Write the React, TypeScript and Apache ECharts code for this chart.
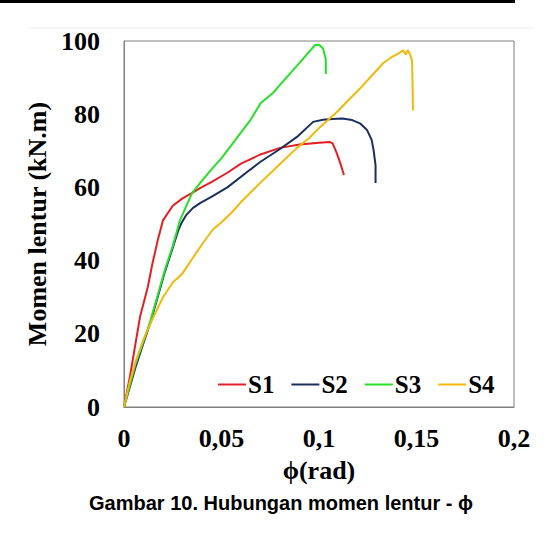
import React, { useEffect, useRef } from "react";
import * as echarts from "echarts";

const seriesNames = ["S1", "S2", "S3", "S4"];
const colors = ["#e41f26", "#1b2f5e", "#27e027", "#f2b90c"];

const s1Phi = [0, 0.003, 0.0082, 0.0123, 0.0145, 0.0175, 0.02, 0.025, 0.03, 0.035, 0.039, 0.045, 0.053, 0.06, 0.07, 0.08, 0.09, 0.1, 0.1056, 0.107, 0.109, 0.111, 0.1128];
const s1M = [0, 8.2, 24.6, 33, 39, 46, 51, 55, 57, 58.5, 59.8, 61.5, 64, 66.5, 69, 70.8, 71.7, 72.2, 72.4, 72, 69.5, 66.5, 63.4];

const s2Phi = [0, 0.003, 0.006, 0.01, 0.0135, 0.017, 0.021, 0.025, 0.028, 0.0297, 0.032, 0.0354, 0.039, 0.045, 0.053, 0.0646, 0.07, 0.08, 0.0887, 0.097, 0.102, 0.107, 0.112, 0.117, 0.121, 0.1246, 0.127, 0.128, 0.129, 0.129];
const s2M = [0, 5.5, 11, 17.5, 23, 29.5, 37, 43.5, 48.5, 50.5, 52.5, 54.4, 55.7, 57.5, 60, 64.8, 67, 70.5, 73.8, 77.9, 78.5, 78.7, 78.8, 78.4, 77.5, 75.7, 73, 70.2, 66, 61.2];

const s3Phi = [0, 0.003, 0.006, 0.01, 0.0135, 0.017, 0.021, 0.025, 0.0287, 0.032, 0.035, 0.039, 0.045, 0.05, 0.055, 0.061, 0.065, 0.07, 0.0764, 0.08, 0.085, 0.09, 0.094, 0.098, 0.1, 0.102, 0.1035, 0.1035];
const s3M = [0, 6, 12, 18, 23.5, 30, 37.5, 44, 51, 55, 58.5, 61.2, 65, 68, 71.5, 75.7, 78.5, 83, 85.8, 88, 91, 94, 96.5, 98.9, 99, 98, 95, 91];

const s4Phi = [0, 0.003, 0.006, 0.01, 0.015, 0.02, 0.025, 0.03, 0.035, 0.0405, 0.0456, 0.05, 0.055, 0.06, 0.07, 0.08, 0.0887, 0.095, 0.1, 0.1046, 0.11, 0.115, 0.121, 0.127, 0.133, 0.137, 0.1415, 0.143, 0.1445, 0.1455, 0.1465, 0.1477, 0.148, 0.1482];
const s4M = [0, 7, 12.5, 18.5, 24.5, 30, 34, 36.5, 40.5, 44.8, 48.5, 50.5, 53, 56, 61.3, 66.4, 70.8, 73.5, 76.2, 78.4, 81, 83.8, 87, 90.5, 94, 95.5, 96.8, 97.5, 96.3, 97.5, 96.5, 94.8, 88, 81];

const xTicks = ["0", "0,05", "0,1", "0,15", "0,2"];
const xTitle = "ϕ(rad)";
const yTitle = "Momen lentur (kN.m)";
const caption = "Gambar 10. Hubungan momen lentur - ϕ";

const serif = "'Liberation Serif', 'DejaVu Serif', serif";
const sans = "'Liberation Sans', Arial, sans-serif";

export default function App() {
  const ref = useRef<HTMLDivElement>(null);
  useEffect(() => {
    if (!ref.current) return;
    const chart = echarts.init(ref.current, null, { renderer: "svg" });
    const allPhi = [s1Phi, s2Phi, s3Phi, s4Phi];
    const allM = [s1M, s2M, s3M, s4M];
    chart.setOption({
      animation: false,
      backgroundColor: "#ffffff",
      grid: {
        left: 124,
        top: 41,
        right: 43,
        bottom: 126,
        show: true,
        borderColor: "#7f7f7f",
        borderWidth: 1,
      },
      xAxis: {
        type: "value",
        min: 0,
        max: 0.2,
        interval: 0.05,
        axisLine: { show: true, lineStyle: { color: "#7f7f7f", width: 1 } },
        axisTick: { show: false },
        splitLine: { show: false },
        axisLabel: {
          margin: 18,
          color: "#000",
          fontFamily: serif,
          fontWeight: "bold",
          fontSize: 26,
          formatter: (v: number) => xTicks[Math.round(v / 0.05)] ?? "",
        },
        name: xTitle,
        nameLocation: "middle",
        nameGap: 50,
        nameTextStyle: { color: "#000", fontFamily: serif, fontWeight: "bold", fontSize: 26 },
      },
      yAxis: {
        type: "value",
        min: 0,
        max: 100,
        interval: 20,
        axisLine: { show: true, lineStyle: { color: "#7f7f7f", width: 1 } },
        axisTick: { show: false },
        splitLine: { show: false },
        axisLabel: {
          margin: 24,
          color: "#000",
          fontFamily: serif,
          fontWeight: "bold",
          fontSize: 26,
        },
        name: yTitle,
        nameLocation: "middle",
        nameGap: 64,
        nameTextStyle: { color: "#000", fontFamily: serif, fontWeight: "bold", fontSize: 26 },
      },
      legend: {
        data: seriesNames,
        left: 213,
        top: 367,
        icon: "rect",
        itemWidth: 28,
        itemHeight: 2,
        itemGap: 17,
        textStyle: { color: "#000", fontFamily: serif, fontWeight: "bold", fontSize: 25, padding: [0, 0, 0, -3] },
      },
      graphic: [
        { type: "rect", left: 0, top: 0, shape: { width: 515, height: 3 }, style: { fill: "#000" } },
        { type: "line", shape: { x1: 28, y1: 28, x2: 533, y2: 28 }, style: { stroke: "#ececec", lineWidth: 1 } },
        {
          type: "text",
          x: 281,
          y: 503,
          style: {
            text: caption,
            fill: "#000",
            font: `bold 20px ${sans}`,
            textAlign: "center",
            textVerticalAlign: "middle",
          },
        },
      ],
      series: seriesNames.map((name, i) => ({
        name,
        type: "line",
        showSymbol: false,
        symbol: "none",
        color: colors[i],
        lineStyle: { color: colors[i], width: 2 },
        data: allPhi[i].map((p, j) => [p, allM[i][j]]),
      })),
    });
    return () => chart.dispose();
  }, []);
  return (
    <div
      ref={ref}
      style={{ position: "absolute", left: 0, top: 0, width: 557, height: 533 }}
    />
  );
}
